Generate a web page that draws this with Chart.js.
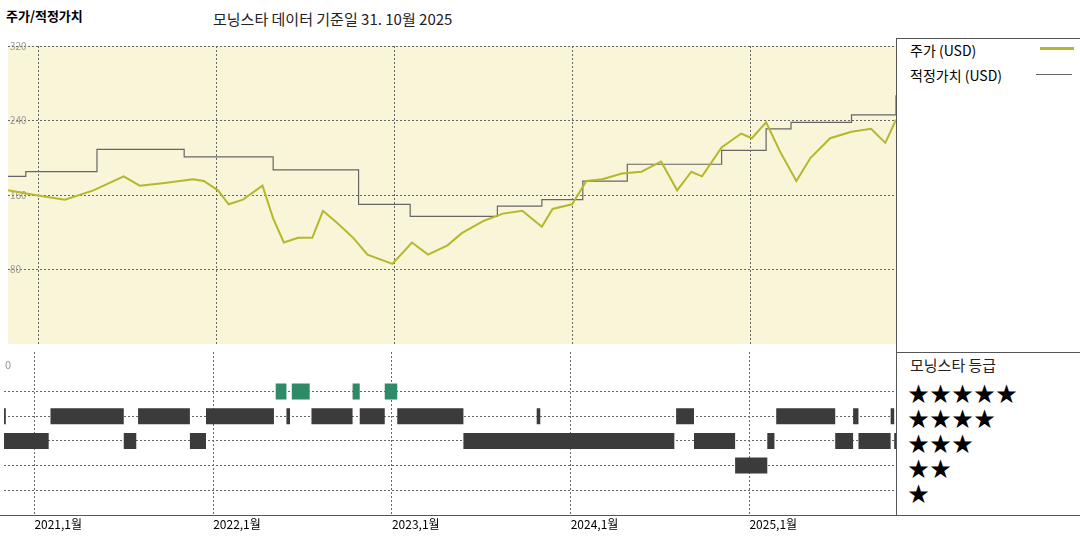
<!DOCTYPE html>
<html><head><meta charset="utf-8">
<script src="https://cdn.jsdelivr.net/npm/chart.js@4"></script>
<style>
body{margin:0;width:1080px;height:540px;background:#fff;font-family:"Noto Sans CJK KR",sans-serif;position:relative;overflow:hidden}
.a{position:absolute;white-space:nowrap}
#top{position:absolute;left:0;top:38px;width:896px;height:314px}
#bot{position:absolute;left:0;top:352px;width:896px;height:188px}
.hl{position:absolute;height:0;border-top:1px solid #555}
.vl{position:absolute;width:0;border-left:1px solid #555}
.st{font-size:21px;line-height:24px;color:#000;letter-spacing:1px}
</style></head><body>
<div class="a" style="left:6px;top:6px;font-size:13px;font-weight:bold">주가/적정가치</div>
<div class="a" style="left:213px;top:8px;font-size:15px;color:#222">모닝스타 데이터 기준일 31. 10월 2025</div>
<div id="top"><canvas id="c1"></canvas></div>
<div id="bot"><canvas id="c2"></canvas></div>
<div class="hl" style="left:896px;top:38px;width:184px"></div>
<div class="hl" style="left:896px;top:352px;width:184px"></div>
<div class="hl" style="left:0;top:515px;width:1080px"></div>
<div class="vl" style="left:896px;top:38px;height:477px"></div>
<div class="a" style="left:910px;top:40px;font-size:14px">주가 (USD)</div>
<div class="a" style="left:1040px;top:47px;width:34px;height:3px;background:#b5b82a"></div>
<div class="a" style="left:910px;top:65px;font-size:14px">적정가치 (USD)</div>
<div class="a" style="left:1036px;top:74px;width:36px;height:1px;background:#666"></div>
<div class="a" style="left:5px;top:356px;font-size:11px;color:#999">0</div>
<div class="a" style="left:910px;top:354px;font-size:15px;color:#222">모닝스타 등급</div>
<div class="a st" style="left:908px;top:380px">★★★★★</div>
<div class="a st" style="left:908px;top:405px">★★★★</div>
<div class="a st" style="left:908px;top:430px">★★★</div>
<div class="a st" style="left:908px;top:455px">★★</div>
<div class="a st" style="left:908px;top:480px">★</div>
<script>
// 시간축: 소수 연도
const priceX = [2020.83,2020.98,2021.15,2021.31,2021.48,2021.57,2021.71,2021.87,2021.93,2022.01,2022.07,2022.15,2022.26,2022.32,2022.38,2022.46,2022.54,2022.60,2022.68,2022.77,2022.85,2022.99,2023.10,2023.19,2023.30,2023.38,2023.50,2023.61,2023.72,2023.83,2023.89,2024.00,2024.08,2024.17,2024.28,2024.39,2024.50,2024.59,2024.67,2024.73,2024.84,2024.95,2025.01,2025.09,2025.17,2025.26,2025.34,2025.45,2025.57,2025.68,2025.76,2025.82];
const priceY = [165,160,155,165,180,170,173,177,175,165,150,155,170,135,109,114,114,143,130,114,96,86,109,96,106,119,132,140,143,126,145,150,175,177,183,185,196,165,185,180,211,226,221,238,206,175,200,221,228,231,216,241];
const fairX = [2020.83,2020.93,2021.33,2021.82,2022.32,2022.80,2023.09,2023.58,2023.83,2024.06,2024.31,2024.84,2025.09,2025.23,2025.57,2025.82];
const fairY = [180,185,209,201,187,150,137,148,155,175,193,208,231,238,246,267];
const rating5 = [[2022.35,2022.41],[2022.44,2022.54],[2022.78,2022.82],[2022.96,2023.03]];
const rating4 = [[2020.83,2020.84],[2021.09,2021.50],[2021.58,2021.87],[2021.96,2022.34],[2022.41,2022.43],[2022.55,2022.78],[2022.82,2022.96],[2023.03,2023.40],[2023.81,2023.83],[2024.59,2024.69],[2025.15,2025.48],[2025.58,2025.61],[2025.79,2025.81]];
const rating3 = [[2020.83,2021.08],[2021.50,2021.57],[2021.87,2021.96],[2023.40,2024.58],[2024.69,2024.92],[2025.10,2025.14],[2025.48,2025.58],[2025.61,2025.79],[2025.81,2025.82]];
const rating2 = [[2024.92,2025.10]];
const yTicks = [80,160,240,320];
const xTicks = [2021,2022,2023,2024,2025];
const xMin = 2020.83, xMax = 2025.82;

const font = {family:'"Noto Sans CJK KR", sans-serif', size:10};
const dash = {color:'#666', lineWidth:1, drawTicks:false};
const dashBorder = {display:false, dash:[2,2]};

const bgPlugin = {
    id:'bg',
    beforeDraw(chart, args, opts) {
        const a = chart.chartArea, ctx = chart.ctx;
        ctx.save();
        ctx.fillStyle = opts.color;
        ctx.fillRect(a.left, a.top, a.right - a.left, a.bottom - a.top);
        ctx.restore();
    }
};

function pts(xs, ys) {
    return xs.map((x, i) => ({x: x, y: ys[i]}));
}

function segs(ranges, level) {
    const out = [];
    ranges.forEach(r => {
        out.push({x: r[0], y: level}, {x: r[1], y: level}, {x: r[1] + 0.001, y: null});
    });
    return out;
}

new Chart(document.getElementById('c1'), {
    type: 'line',
    data: {
        datasets: [
            {data: pts(priceX, priceY), borderColor: '#b5b82a', borderWidth: 2, pointRadius: 0, tension: 0},
            {data: pts(fairX, fairY), borderColor: '#666', borderWidth: 1.2, pointRadius: 0, stepped: true}
        ]
    },
    options: {
        responsive: true, maintainAspectRatio: false, animation: false,
        layout: {padding: {left: 4, right: 0, top: 0, bottom: 0}},
        plugins: {legend: {display: false}, tooltip: {enabled: false}, bg: {color: '#f8f5d8'}},
        scales: {
            x: {type: 'linear', min: xMin, max: xMax,
                afterBuildTicks: s => { s.ticks = xTicks.map(v => ({value: v})); },
                afterFit: s => { s.height = 0; },
                ticks: {display: false}, grid: dash, border: dashBorder},
            y: {min: 0, max: 320, afterBuildTicks: s => { s.ticks = yTicks.map(v => ({value: v})); },
                ticks: {mirror: true, color: '#999', font: font, padding: 2},
                grid: dash, border: dashBorder}
        }
    },
    plugins: [bgPlugin]
});

const barStyle = {borderWidth: 16, pointRadius: 0, spanGaps: false, borderCapStyle: 'butt'};
new Chart(document.getElementById('c2'), {
    type: 'line',
    data: {
        datasets: [
            Object.assign({data: segs(rating5, 5), borderColor: '#2f8a67'}, barStyle),
            Object.assign({data: segs(rating4, 4), borderColor: '#3b3b3b'}, barStyle),
            Object.assign({data: segs(rating3, 3), borderColor: '#3b3b3b'}, barStyle),
            Object.assign({data: segs(rating2, 2), borderColor: '#3b3b3b'}, barStyle)
        ]
    },
    options: {
        responsive: true, maintainAspectRatio: false, animation: false,
        layout: {padding: {left: 4, right: 0, top: 0, bottom: 0}},
        plugins: {legend: {display: false}, tooltip: {enabled: false}},
        scales: {
            x: {type: 'linear', min: xMin, max: xMax,
                afterBuildTicks: s => { s.ticks = xTicks.map(v => ({value: v})); },
                afterFit: s => { s.height = 25; },
                ticks: {align: 'start', maxRotation: 0, color: '#000', font: {family: font.family, size: 12},
                        padding: 2, callback: v => v + ',1월'},
                grid: dash, border: dashBorder},
            y: {min: 0, max: 6.6, afterBuildTicks: s => { s.ticks = [1,2,3,4,5].map(v => ({value: v})); },
                ticks: {display: false}, grid: dash, border: dashBorder}
        }
    }
});
</script>
</body></html>
